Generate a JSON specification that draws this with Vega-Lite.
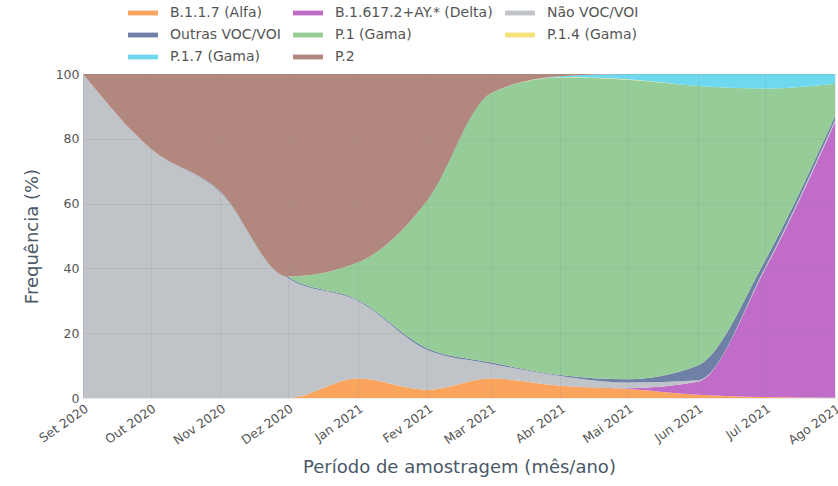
{
  "$schema": "https://vega.github.io/schema/vega-lite/v6.json",
  "width": 752,
  "height": 324,
  "autosize": "none",
  "padding": {"left": 83, "top": 74, "right": 3, "bottom": 88},
  "background": "white",
  "config": {
    "font": "DejaVu Sans",
    "view": {"stroke": null}
  },
  "data": {
    "values": [
      {"d": "2020-09-01", "v": "B.1.1.7 (Alfa)", "f": 0},
      {"d": "2020-09-01", "v": "B.1.617.2+AY.* (Delta)", "f": 0},
      {"d": "2020-09-01", "v": "Não VOC/VOI", "f": 100},
      {"d": "2020-09-01", "v": "Outras VOC/VOI", "f": 0},
      {"d": "2020-09-01", "v": "P.1 (Gama)", "f": 0},
      {"d": "2020-09-01", "v": "P.1.4 (Gama)", "f": 0},
      {"d": "2020-09-01", "v": "P.1.7 (Gama)", "f": 0},
      {"d": "2020-09-01", "v": "P.2", "f": 0},
      {"d": "2020-10-01", "v": "B.1.1.7 (Alfa)", "f": 0},
      {"d": "2020-10-01", "v": "B.1.617.2+AY.* (Delta)", "f": 0},
      {"d": "2020-10-01", "v": "Não VOC/VOI", "f": 77},
      {"d": "2020-10-01", "v": "Outras VOC/VOI", "f": 0},
      {"d": "2020-10-01", "v": "P.1 (Gama)", "f": 0},
      {"d": "2020-10-01", "v": "P.1.4 (Gama)", "f": 0},
      {"d": "2020-10-01", "v": "P.1.7 (Gama)", "f": 0},
      {"d": "2020-10-01", "v": "P.2", "f": 23},
      {"d": "2020-11-01", "v": "B.1.1.7 (Alfa)", "f": 0},
      {"d": "2020-11-01", "v": "B.1.617.2+AY.* (Delta)", "f": 0},
      {"d": "2020-11-01", "v": "Não VOC/VOI", "f": 63.5},
      {"d": "2020-11-01", "v": "Outras VOC/VOI", "f": 0.3},
      {"d": "2020-11-01", "v": "P.1 (Gama)", "f": 0},
      {"d": "2020-11-01", "v": "P.1.4 (Gama)", "f": 0},
      {"d": "2020-11-01", "v": "P.1.7 (Gama)", "f": 0},
      {"d": "2020-11-01", "v": "P.2", "f": 36.2},
      {"d": "2020-12-01", "v": "B.1.1.7 (Alfa)", "f": 0},
      {"d": "2020-12-01", "v": "B.1.617.2+AY.* (Delta)", "f": 0},
      {"d": "2020-12-01", "v": "Não VOC/VOI", "f": 37},
      {"d": "2020-12-01", "v": "Outras VOC/VOI", "f": 0.5},
      {"d": "2020-12-01", "v": "P.1 (Gama)", "f": 0},
      {"d": "2020-12-01", "v": "P.1.4 (Gama)", "f": 0},
      {"d": "2020-12-01", "v": "P.1.7 (Gama)", "f": 0},
      {"d": "2020-12-01", "v": "P.2", "f": 62.5},
      {"d": "2021-01-01", "v": "B.1.1.7 (Alfa)", "f": 6},
      {"d": "2021-01-01", "v": "B.1.617.2+AY.* (Delta)", "f": 0},
      {"d": "2021-01-01", "v": "Não VOC/VOI", "f": 24},
      {"d": "2021-01-01", "v": "Outras VOC/VOI", "f": 0.3},
      {"d": "2021-01-01", "v": "P.1 (Gama)", "f": 11.5},
      {"d": "2021-01-01", "v": "P.1.4 (Gama)", "f": 0},
      {"d": "2021-01-01", "v": "P.1.7 (Gama)", "f": 0},
      {"d": "2021-01-01", "v": "P.2", "f": 58.2},
      {"d": "2021-02-01", "v": "B.1.1.7 (Alfa)", "f": 2.5},
      {"d": "2021-02-01", "v": "B.1.617.2+AY.* (Delta)", "f": 0},
      {"d": "2021-02-01", "v": "Não VOC/VOI", "f": 12.3},
      {"d": "2021-02-01", "v": "Outras VOC/VOI", "f": 0.5},
      {"d": "2021-02-01", "v": "P.1 (Gama)", "f": 45.7},
      {"d": "2021-02-01", "v": "P.1.4 (Gama)", "f": 0},
      {"d": "2021-02-01", "v": "P.1.7 (Gama)", "f": 0},
      {"d": "2021-02-01", "v": "P.2", "f": 39},
      {"d": "2021-03-01", "v": "B.1.1.7 (Alfa)", "f": 6},
      {"d": "2021-03-01", "v": "B.1.617.2+AY.* (Delta)", "f": 0},
      {"d": "2021-03-01", "v": "Não VOC/VOI", "f": 4.6},
      {"d": "2021-03-01", "v": "Outras VOC/VOI", "f": 0.4},
      {"d": "2021-03-01", "v": "P.1 (Gama)", "f": 83},
      {"d": "2021-03-01", "v": "P.1.4 (Gama)", "f": 0},
      {"d": "2021-03-01", "v": "P.1.7 (Gama)", "f": 0},
      {"d": "2021-03-01", "v": "P.2", "f": 6},
      {"d": "2021-04-01", "v": "B.1.1.7 (Alfa)", "f": 3.8},
      {"d": "2021-04-01", "v": "B.1.617.2+AY.* (Delta)", "f": 0},
      {"d": "2021-04-01", "v": "Não VOC/VOI", "f": 3},
      {"d": "2021-04-01", "v": "Outras VOC/VOI", "f": 0.3},
      {"d": "2021-04-01", "v": "P.1 (Gama)", "f": 91.8},
      {"d": "2021-04-01", "v": "P.1.4 (Gama)", "f": 0.1},
      {"d": "2021-04-01", "v": "P.1.7 (Gama)", "f": 0.3},
      {"d": "2021-04-01", "v": "P.2", "f": 0.7},
      {"d": "2021-05-01", "v": "B.1.1.7 (Alfa)", "f": 2.8},
      {"d": "2021-05-01", "v": "B.1.617.2+AY.* (Delta)", "f": 0.2},
      {"d": "2021-05-01", "v": "Não VOC/VOI", "f": 1.8},
      {"d": "2021-05-01", "v": "Outras VOC/VOI", "f": 1},
      {"d": "2021-05-01", "v": "P.1 (Gama)", "f": 92.4},
      {"d": "2021-05-01", "v": "P.1.4 (Gama)", "f": 0.2},
      {"d": "2021-05-01", "v": "P.1.7 (Gama)", "f": 1.6},
      {"d": "2021-05-01", "v": "P.2", "f": 0},
      {"d": "2021-06-01", "v": "B.1.1.7 (Alfa)", "f": 1},
      {"d": "2021-06-01", "v": "B.1.617.2+AY.* (Delta)", "f": 4},
      {"d": "2021-06-01", "v": "Não VOC/VOI", "f": 0.5},
      {"d": "2021-06-01", "v": "Outras VOC/VOI", "f": 4.5},
      {"d": "2021-06-01", "v": "P.1 (Gama)", "f": 86.3},
      {"d": "2021-06-01", "v": "P.1.4 (Gama)", "f": 0},
      {"d": "2021-06-01", "v": "P.1.7 (Gama)", "f": 3.7},
      {"d": "2021-06-01", "v": "P.2", "f": 0},
      {"d": "2021-07-01", "v": "B.1.1.7 (Alfa)", "f": 0.3},
      {"d": "2021-07-01", "v": "B.1.617.2+AY.* (Delta)", "f": 39.5},
      {"d": "2021-07-01", "v": "Não VOC/VOI", "f": 0.5},
      {"d": "2021-07-01", "v": "Outras VOC/VOI", "f": 2.2},
      {"d": "2021-07-01", "v": "P.1 (Gama)", "f": 53},
      {"d": "2021-07-01", "v": "P.1.4 (Gama)", "f": 0},
      {"d": "2021-07-01", "v": "P.1.7 (Gama)", "f": 4.5},
      {"d": "2021-07-01", "v": "P.2", "f": 0},
      {"d": "2021-08-01", "v": "B.1.1.7 (Alfa)", "f": 0.1},
      {"d": "2021-08-01", "v": "B.1.617.2+AY.* (Delta)", "f": 85},
      {"d": "2021-08-01", "v": "Não VOC/VOI", "f": 0.6},
      {"d": "2021-08-01", "v": "Outras VOC/VOI", "f": 1.3},
      {"d": "2021-08-01", "v": "P.1 (Gama)", "f": 10},
      {"d": "2021-08-01", "v": "P.1.4 (Gama)", "f": 0},
      {"d": "2021-08-01", "v": "P.1.7 (Gama)", "f": 3},
      {"d": "2021-08-01", "v": "P.2", "f": 0}
    ]
  },
  "mark": {"type": "area", "interpolate": "monotone", "opacity": 1},
  "encoding": {
    "x": {
      "field": "d",
      "type": "temporal",
      "scale": {"type": "utc", "domain": ["2020-09-01", "2021-08-01"], "nice": false},
      "axis": {
        "title": "Período de amostragem (mês/ano)",
        "titleFontSize": 18,
        "titleFontWeight": "normal",
        "titleColor": "#4a5868",
        "titlePadding": 12,
        "values": ["2020-09-01", "2020-10-01", "2020-11-01", "2020-12-01", "2021-01-01", "2021-02-01", "2021-03-01", "2021-04-01", "2021-05-01", "2021-06-01", "2021-07-01", "2021-08-01"],
        "labelExpr": "['Jan','Fev','Mar','Abr','Mai','Jun','Jul','Ago','Set','Out','Nov','Dez'][utcmonth(datum.value)] + ' ' + utcyear(datum.value)",
        "labelAngle": -35,
        "labelAlign": "right",
        "labelBaseline": "top",
        "labelFontSize": 12.5,
        "labelColor": "#555",
        "labelPadding": 4,
        "labelOverlap": false,
        "labelBound": false,
        "labelFlush": false,
        "domain": false,
        "ticks": false,
        "grid": true,
        "gridColor": "#8a8a8a",
        "gridOpacity": 0.18,
        "zindex": 1
      }
    },
    "y": {
      "field": "f",
      "type": "quantitative",
      "stack": "zero",
      "scale": {"domain": [0, 100], "nice": false},
      "axis": {
        "title": "Frequência (%)",
        "titleFontSize": 18,
        "titleFontWeight": "normal",
        "titleColor": "#4a5868",
        "titlePadding": 14,
        "values": [0, 20, 40, 60, 80, 100],
        "labelFontSize": 12.5,
        "labelColor": "#555",
        "labelPadding": 4,
        "domain": false,
        "ticks": false,
        "grid": true,
        "gridColor": "#8a8a8a",
        "gridOpacity": 0.18,
        "zindex": 1
      }
    },
    "order": {"field": "v", "type": "nominal", "sort": "ascending"},
    "color": {
      "field": "v",
      "type": "nominal",
      "scale": {
        "domain": ["B.1.1.7 (Alfa)", "B.1.617.2+AY.* (Delta)", "Não VOC/VOI", "Outras VOC/VOI", "P.1 (Gama)", "P.1.4 (Gama)", "P.1.7 (Gama)", "P.2"],
        "range": ["#FBA45E", "#C06CC8", "#C0C3C8", "#6F80A6", "#96CC98", "#F6E27A", "#6DD8EE", "#B2877E"]
      },
      "legend": {
        "title": null,
        "orient": "none",
        "legendX": 45,
        "legendY": -76,
        "direction": "horizontal",
        "columns": 3,
        "symbolType": "M-1,-0.16H1V0.16H-1Z",
        "symbolSize": 900,
        "symbolStrokeWidth": 0,
        "symbolOpacity": 1,
        "labelFontSize": 14,
        "labelColor": "#555",
        "labelOffset": 12,
        "rowPadding": -6,
        "columnPadding": 12,
        "labelLimit": 300
      }
    }
  }
}
